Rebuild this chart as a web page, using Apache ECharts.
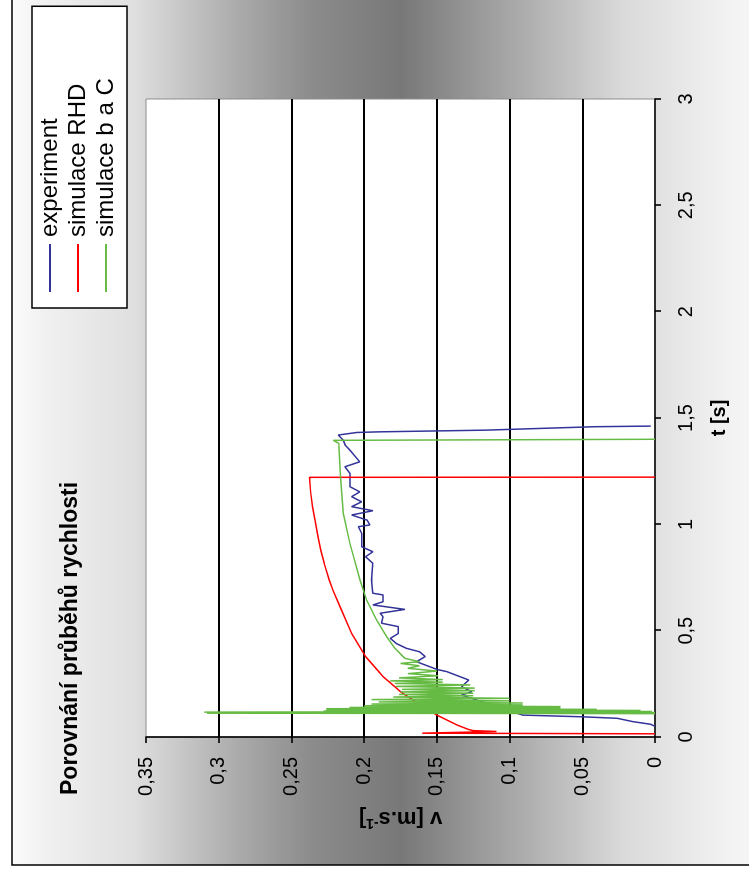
<!DOCTYPE html>
<html>
<head>
<meta charset="utf-8">
<title>Porovnání průběhů rychlosti</title>
<script src="https://cdn.jsdelivr.net/npm/echarts@6/dist/echarts.min.js"></script>
<style>
  html, body { margin: 0; padding: 0; background: #fff; overflow: hidden; }
  body { width: 749px; height: 877px; position: relative; }
  /* landscape chart, turned a quarter turn counter-clockwise */
  #chart {
    position: absolute; left: 0; top: 0;
    width: 877px; height: 749px;
    transform-origin: 0 0;
    transform: translateY(877px) rotate(-90deg);
  }
</style>
</head>
<body>
<div id="chart"></div>
<script>
// time [s], velocity [m/s] pairs
const experiment = [
  [0.050, 0.000], [0.060, 0.003], [0.072, 0.015], [0.088, 0.026], [0.095, 0.050],
  [0.103, 0.091], [0.197, 0.133], [0.213, 0.126], [0.236, 0.133], [0.268, 0.128],
  [0.307, 0.143], [0.318, 0.150], [0.354, 0.164], [0.378, 0.158], [0.401, 0.162],
  [0.417, 0.171], [0.440, 0.178], [0.464, 0.182], [0.487, 0.1765], [0.519, 0.1765],
  [0.535, 0.188], [0.566, 0.187], [0.582, 0.189], [0.600, 0.172], [0.621, 0.194],
  [0.636, 0.187], [0.668, 0.187], [0.676, 0.194], [0.738, 0.195], [0.817, 0.194],
  [0.848, 0.199], [0.871, 0.194], [0.895, 0.2017], [0.958, 0.2017], [0.989, 0.204],
  [0.997, 0.196], [1.020, 0.198], [1.044, 0.2086], [1.064, 0.194], [1.083, 0.2086],
  [1.106, 0.2017], [1.130, 0.2086], [1.153, 0.203], [1.177, 0.2098], [1.240, 0.2098],
  [1.271, 0.2132], [1.294, 0.203], [1.349, 0.2098], [1.372, 0.213], [1.396, 0.2144],
  [1.420, 0.2178], [1.428, 0.218], [1.432, 0.205], [1.435, 0.189], [1.443, 0.116],
  [1.459, 0.042], [1.462, 0.003]
];

const simulaceRHD = [
  [0.015, 0.000], [0.018, 0.160], [0.026, 0.109], [0.030, 0.125], [0.035, 0.128],
  [0.056, 0.136], [0.103, 0.150], [0.190, 0.170], [0.213, 0.175], [0.237, 0.179],
  [0.284, 0.187], [0.300, 0.189], [0.378, 0.199], [0.487, 0.2086], [0.613, 0.2166],
  [0.691, 0.2215], [0.738, 0.2240], [0.817, 0.2275], [0.879, 0.2298], [0.942, 0.2318],
  [1.020, 0.2338], [1.083, 0.2355], [1.153, 0.2368], [1.221, 0.2375], [1.222, 0.000]
];

const simulaceBaC = [
  [0.110, 0.000], [0.112, 0.308], [0.115, 0.000], [0.117, 0.310], [0.120, 0.002],
  [0.122, 0.228], [0.125, 0.010], [0.127, 0.226], [0.130, 0.040], [0.133, 0.226],
  [0.136, 0.065], [0.139, 0.210], [0.143, 0.065], [0.147, 0.200], [0.151, 0.091],
  [0.155, 0.195], [0.160, 0.091], [0.165, 0.190], [0.170, 0.100], [0.176, 0.195],
  [0.182, 0.100], [0.188, 0.180], [0.194, 0.125], [0.200, 0.176], [0.206, 0.125],
  [0.212, 0.175], [0.218, 0.124], [0.224, 0.174], [0.230, 0.124], [0.238, 0.178],
  [0.245, 0.127], [0.252, 0.179], [0.258, 0.146], [0.264, 0.182], [0.270, 0.146],
  [0.278, 0.176], [0.288, 0.149], [0.298, 0.170], [0.310, 0.150], [0.323, 0.170],
  [0.335, 0.162], [0.346, 0.175], [0.354, 0.162], [0.370, 0.172], [0.417, 0.1788],
  [0.472, 0.1845], [0.550, 0.1914], [0.644, 0.1983], [0.738, 0.2029], [0.911, 0.2098],
  [1.052, 0.2144], [1.224, 0.2163], [1.381, 0.2175], [1.395, 0.2212], [1.400, 0.000]
];

const seriesNames = ['experiment', 'simulace RHD', 'simulace b a C'];
const seriesColors = ['#333399', '#ff0000', '#66bb44'];

const timeTicks = { min: 0, max: 3, interval: 0.5 };
const speedTicks = { min: 0, max: 0.35, interval: 0.05 };

const FONT = '"Liberation Sans", Arial, sans-serif';
const comma = v => String(+v.toFixed(2)).replace('.', ',');

const chart = echarts.init(document.getElementById('chart'), null, { renderer: 'canvas' });

chart.setOption({
  animation: false,
  backgroundColor: '#ffffff',
  graphic: [{
    type: 'rect',
    z: -100,
    silent: true,
    shape: { x: 12, y: 12, width: 900, height: 800 },
    style: {
      stroke: '#000',
      lineWidth: 1.5,
      fill: {
        type: 'linear', x: 0, y: 0, x2: 0, y2: 749, global: true,
        colorStops: [
          { offset: 0.00, color: '#ffffff' },
          { offset: 0.064, color: '#f0f0f0' },
          { offset: 0.175, color: '#e0e0e0' },
          { offset: 0.32, color: '#aaaaaa' },
          { offset: 0.414, color: '#8c8c8c' },
          { offset: 0.535, color: '#787878' },
          { offset: 0.638, color: '#999999' },
          { offset: 0.70, color: '#adadad' },
          { offset: 0.829, color: '#d9d9d9' },
          { offset: 0.96, color: '#f0f0f0' },
          { offset: 1.00, color: '#f5f5f5' }
        ]
      }
    }
  }],
  title: {
    text: 'Porovnání průběhů rychlosti',
    left: 82,
    top: 59,
    padding: 0,
    textStyle: { fontFamily: FONT, fontSize: 23, fontWeight: 'bold', color: '#000' }
  },
  legend: {
    data: seriesNames,
    orient: 'vertical',
    left: 569,
    top: 32,
    padding: [6, 72, 9, 16],
    itemGap: 4,
    itemWidth: 48,
    itemHeight: 2,
    icon: 'rect',
    backgroundColor: '#ffffff',
    borderColor: '#000',
    borderWidth: 1.5,
    borderRadius: 0,
    textStyle: { fontFamily: FONT, fontSize: 24, lineHeight: 24, color: '#000', padding: [0, 0, 0, 2] }
  },
  grid: {
    left: 140, right: 99, top: 146, bottom: 94,
    show: true,
    backgroundColor: '#ffffff',
    borderColor: '#8c8c8c',
    borderWidth: 1
  },
  xAxis: {
    type: 'value',
    min: timeTicks.min, max: timeTicks.max, interval: timeTicks.interval,
    name: 't [s]',
    nameLocation: 'middle',
    nameGap: 54,
    nameTextStyle: { fontFamily: FONT, fontSize: 20, fontWeight: 'bold', color: '#000' },
    axisLine: { show: true, onZero: false, lineStyle: { color: '#000', width: 1.6 } },
    axisTick: { show: true, inside: false, length: 6, lineStyle: { color: '#000', width: 1.6 } },
    axisLabel: { fontFamily: FONT, fontSize: 20, color: '#000', margin: 21, formatter: comma },
    splitLine: { show: false }
  },
  yAxis: {
    type: 'value',
    min: speedTicks.min, max: speedTicks.max, interval: speedTicks.interval,
    name: 'v [m.s{sup|-1}]',
    nameLocation: 'middle',
    nameGap: 70,
    nameTextStyle: {
      fontFamily: FONT, fontSize: 22, fontWeight: 'bold', color: '#000',
      rich: { sup: { fontFamily: FONT, fontSize: 14, fontWeight: 'bold', color: '#000', verticalAlign: 'top', padding: [0, 0, 9, 0] } }
    },
    axisLine: { show: true, onZero: false, lineStyle: { color: '#000', width: 1.6 } },
    axisTick: { show: true, inside: false, length: 6, lineStyle: { color: '#000', width: 1.6 } },
    axisLabel: { fontFamily: FONT, fontSize: 20, color: '#000', margin: 20, formatter: comma },
    splitLine: { show: true, showMinLine: false, showMaxLine: false, lineStyle: { color: '#000', width: 1.8 } }
  },
  series: [
    { name: seriesNames[0], type: 'line', data: experiment, showSymbol: false, color: seriesColors[0], lineStyle: { width: 1.5 } },
    { name: seriesNames[1], type: 'line', data: simulaceRHD, showSymbol: false, color: seriesColors[1], lineStyle: { width: 1.5 } },
    { name: seriesNames[2], type: 'line', data: simulaceBaC, showSymbol: false, color: seriesColors[2], lineStyle: { width: 1.5 } }
  ]
});
</script>
</body>
</html>
